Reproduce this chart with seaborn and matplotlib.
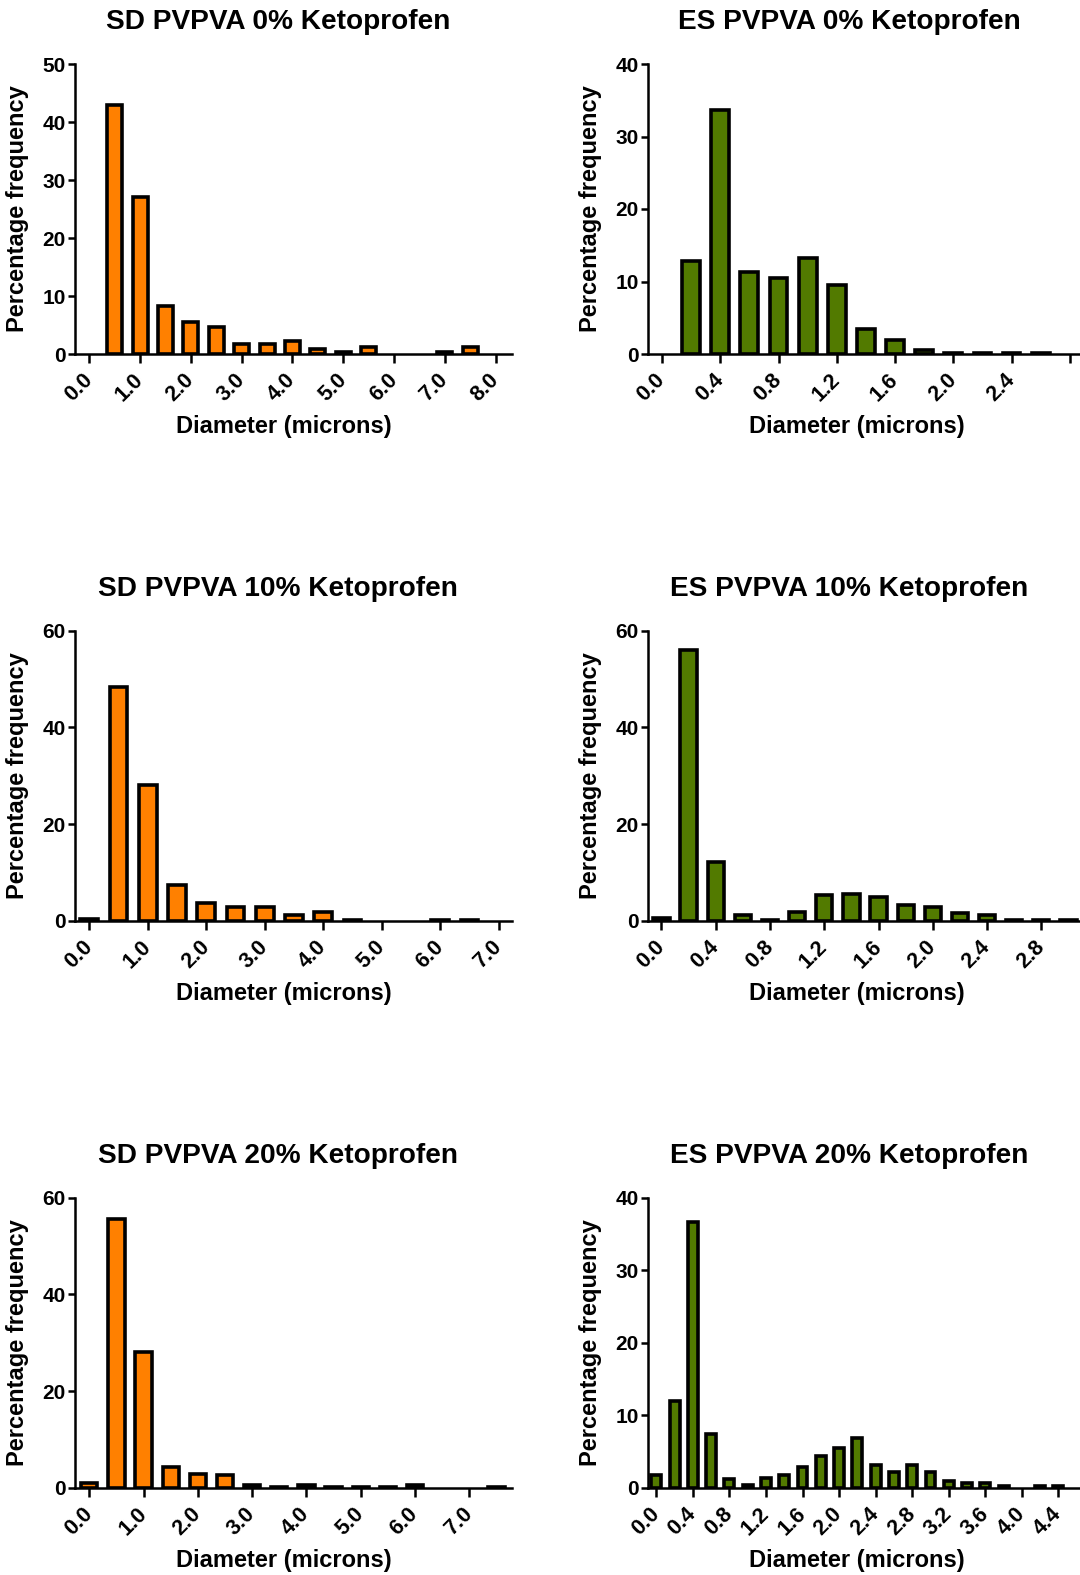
import numpy as np
import pandas as pd
import matplotlib
matplotlib.use("Agg")
import matplotlib.pyplot as plt
import seaborn as sns

# ---- particle size distributions: bin centre (microns) and % frequency ----
sd0_diam = [0.5, 1.0, 1.5, 2.0, 2.5, 3.0, 3.5, 4.0, 4.5, 5.0, 5.5, 6.0, 6.5, 7.0, 7.5]
sd0_freq = [43.0, 27.1, 8.2, 5.5, 4.6, 1.7, 1.7, 2.2, 0.8, 0.3, 1.2, 0.0, 0.0, 0.3, 1.2]

es0_diam = [0.2, 0.4, 0.6, 0.8, 1.0, 1.2, 1.4, 1.6, 1.8, 2.0, 2.2, 2.4, 2.6]
es0_freq = [12.8, 33.6, 11.3, 10.5, 13.2, 9.5, 3.5, 2.0, 0.6, 0.2, 0.2, 0.2, 0.2]

sd10_diam = [0.0, 0.5, 1.0, 1.5, 2.0, 2.5, 3.0, 3.5, 4.0, 4.5, 5.0, 5.5, 6.0, 6.5]
sd10_freq = [0.3, 48.3, 28.2, 7.5, 3.7, 2.8, 2.8, 1.1, 1.8, 0.2, 0.0, 0.0, 0.2, 0.2]

es10_diam = [0.0, 0.2, 0.4, 0.6, 0.8, 1.0, 1.2, 1.4, 1.6, 1.8, 2.0, 2.2, 2.4, 2.6, 2.8, 3.0]
es10_freq = [0.6, 56.0, 12.1, 1.1, 0.2, 1.9, 5.3, 5.6, 5.0, 3.3, 2.8, 1.6, 1.3, 0.2, 0.2, 0.2]

sd20_diam = [0.0, 0.5, 1.0, 1.5, 2.0, 2.5, 3.0, 3.5, 4.0, 4.5, 5.0, 5.5, 6.0, 6.5, 7.0, 7.5]
sd20_freq = [1.0, 55.6, 28.1, 4.2, 2.9, 2.6, 0.5, 0.2, 0.5, 0.2, 0.2, 0.2, 0.5, 0.0, 0.0, 0.2]

es20_diam = [0.0, 0.2, 0.4, 0.6, 0.8, 1.0, 1.2, 1.4, 1.6, 1.8, 2.0, 2.2,
             2.4, 2.6, 2.8, 3.0, 3.2, 3.4, 3.6, 3.8, 4.0, 4.2, 4.4]
es20_freq = [1.7, 12.0, 36.7, 7.4, 1.2, 0.4, 1.4, 1.7, 2.8, 4.4, 5.5, 6.8,
             3.2, 2.2, 3.2, 2.2, 0.9, 0.6, 0.6, 0.2, 0.0, 0.2, 0.2]

titles = ["SD PVPVA 0% Ketoprofen", "ES PVPVA 0% Ketoprofen",
          "SD PVPVA 10% Ketoprofen", "ES PVPVA 10% Ketoprofen",
          "SD PVPVA 20% Ketoprofen", "ES PVPVA 20% Ketoprofen"]
x_label = "Diameter (microns)"
y_label = "Percentage frequency"

ORANGE = "#FF8000"
GREEN = "#527A00"

sns.set_style("ticks")
plt.rcParams["font.family"] = ["Liberation Sans", "DejaVu Sans"]
plt.rcParams["font.weight"] = "bold"
plt.rcParams["text.color"] = "black"
plt.rcParams["axes.labelcolor"] = "black"
plt.rcParams["xtick.color"] = "black"
plt.rcParams["ytick.color"] = "black"

W, H = 1080, 1575
fig = plt.figure(figsize=(W / 100, H / 100), dpi=100)

# axes frames in pixels: (left, right, top); every plot is 290 px tall
AX_H = 290
row_tops = [64, 630.8, 1197.7]
col_x = [(75, 511.7), (648, 1080)]

panels = [
    dict(d=sd0_diam, f=sd0_freq, c=ORANGE, xlim=(-0.281, 8.315), xt=np.arange(0, 8.01, 1.0),
         yt=[0, 10, 20, 30, 40, 50], w=0.59, hide_last=False),
    dict(d=es0_diam, f=es0_freq, c=GREEN, xlim=(-0.096, 2.87), xt=np.arange(0, 2.81, 0.4),
         yt=[0, 10, 20, 30, 40], w=0.61, hide_last=True),
    dict(d=sd10_diam, f=sd10_freq, c=ORANGE, xlim=(-0.244, 7.22), xt=np.arange(0, 7.01, 1.0),
         yt=[0, 20, 40, 60], w=0.61, hide_last=False),
    dict(d=es10_diam, f=es10_freq, c=GREEN, xlim=(-0.099, 3.085), xt=np.arange(0, 2.81, 0.4),
         yt=[0, 20, 40, 60], w=0.60, hide_last=False),
    dict(d=sd20_diam, f=sd20_freq, c=ORANGE, xlim=(-0.263, 7.78), xt=np.arange(0, 7.01, 1.0),
         yt=[0, 20, 40, 60], w=0.60, hide_last=False),
    dict(d=es20_diam, f=es20_freq, c=GREEN, xlim=(-0.091, 4.636), xt=np.arange(0, 4.41, 0.4),
         yt=[0, 10, 20, 30, 40], w=0.54, hide_last=False),
]

for i, p in enumerate(panels):
    r, c = divmod(i, 2)
    x0, x1 = col_x[c]
    top = row_tops[r]
    ax = fig.add_axes([x0 / W, 1 - (top + AX_H) / H, (x1 - x0) / W, AX_H / H])

    df = pd.DataFrame({"diameter": p["d"], "freq": p["f"]})
    df = df[df["freq"] > 0]
    sns.barplot(data=df, x="diameter", y="freq", native_scale=True, width=p["w"],
                color=p["c"], saturation=1, edgecolor="black", linewidth=2.6,
                errorbar=None, ax=ax, zorder=3)

    ax.set_xlim(*p["xlim"])
    ax.set_ylim(0, p["yt"][-1])
    ax.set_xticks(p["xt"])
    labels = ["{:.1f}".format(v) for v in p["xt"]]
    if p["hide_last"]:
        labels[-1] = ""
    ax.set_xticklabels(labels)
    ax.set_yticks(p["yt"])
    ax.set_yticklabels([str(v) for v in p["yt"]])

    sns.despine(ax=ax)
    for s in ("left", "bottom"):
        ax.spines[s].set_linewidth(1.8)
        ax.spines[s].set_color("black")
    ax.tick_params(axis="x", length=6.5, width=1.8, pad=10, labelsize=15.5)
    ax.tick_params(axis="y", length=5, width=1.8, pad=1.6, labelsize=15)
    for lab in ax.get_xticklabels():
        lab.set_rotation(45)
        lab.set_ha("right")
        lab.set_va("center")
        lab.set_rotation_mode("anchor")
        lab.set_fontweight("bold")
    for lab in ax.get_yticklabels():
        lab.set_fontweight("bold")

    width_px = x1 - x0
    ax.set_xlabel(x_label, fontsize=17, fontweight="bold", va="center")
    ax.set_ylabel(y_label, fontsize=17, fontweight="bold", va="center")
    xl_center = 283.8 if c == 0 else 857
    yl_center = 18 if c == 0 else 591
    ax.xaxis.set_label_coords((xl_center - x0) / width_px, -73 / AX_H)
    ax.yaxis.set_label_coords((yl_center - x0) / width_px, 0.5)

    ax.set_title(titles[i], fontsize=20.2, fontweight="bold", x=0.465,
                 y=1 + 42 / AX_H, va="center", pad=0)

fig.savefig("out.png", dpi=100)
